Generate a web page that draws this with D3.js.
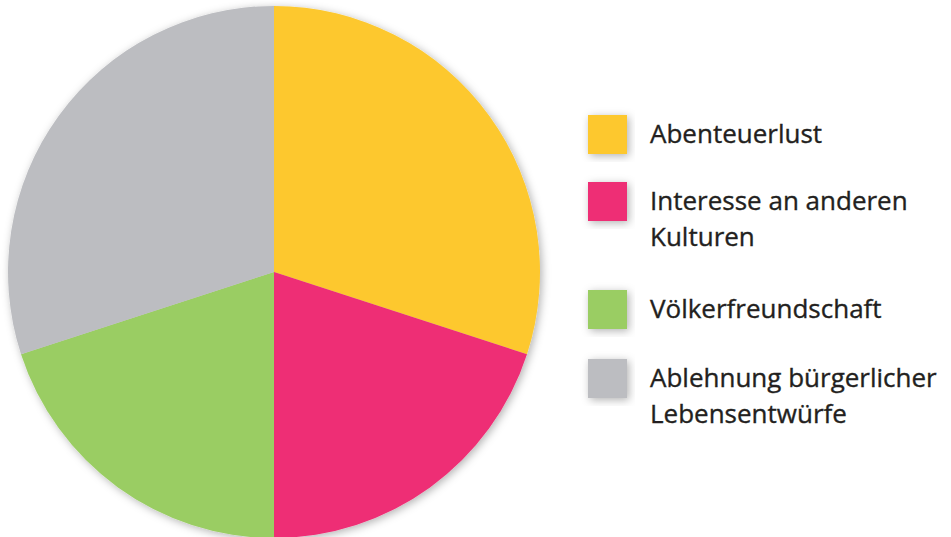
<!DOCTYPE html>
<html>
<head>
<meta charset="utf-8">
<script src="https://cdn.jsdelivr.net/npm/d3@7"></script>
<style>
  body { margin: 0; background: #fff; }
  text { font-family: "Open Sans", "Noto Sans", sans-serif; fill: #231f20; stroke: #231f20; stroke-width: 0.35px; }
</style>
</head>
<body>
<svg id="chart" width="951" height="537"></svg>
<script>
const categories = ["Abenteuerlust", "Interesse an anderen Kulturen", "Völkerfreundschaft", "Ablehnung bürgerlicher Lebensentwürfe"];
const labelLines = [["Abenteuerlust"], ["Interesse an anderen", "Kulturen"], ["Völkerfreundschaft"], ["Ablehnung bürgerlicher", "Lebensentwürfe"]];
const values = [30, 20, 20, 30];
const colors = ["#fdc82f", "#ee2d74", "#9acd63", "#bcbdc1"];

const svg = d3.select("#chart");

// soft shadow like the original artwork
const defs = svg.append("defs");
const shadow = defs.append("filter")
    .attr("id", "shadow")
    .attr("x", "-20%").attr("y", "-20%")
    .attr("width", "140%").attr("height", "140%");
shadow.append("feDropShadow")
    .attr("dx", 2).attr("dy", 2)
    .attr("stdDeviation", 4)
    .attr("flood-color", "#000")
    .attr("flood-opacity", 0.3);

const cx = 274, cy = 272, radius = 266;

const color = d3.scaleOrdinal().domain(categories).range(colors);

const pie = d3.pie().sort(null).value(d => d.value);
const arc = d3.arc().innerRadius(0).outerRadius(radius);

const data = categories.map((c, i) => ({ name: c, value: values[i] }));

const g = svg.append("g")
    .attr("transform", `translate(${cx},${cy})`)
    .attr("filter", "url(#shadow)");

g.selectAll("path.slice")
    .data(pie(data))
    .enter()
    .append("path")
    .attr("class", "slice")
    .attr("d", arc)
    .attr("fill", d => color(d.data.name));

// legend
const legendTops = [115, 182, 290, 359];
const swatch = 39;
const legend = svg.append("g").attr("transform", "translate(588,0)");

const items = legend.selectAll("g")
    .data(data)
    .enter()
    .append("g")
    .attr("transform", (d, i) => `translate(0,${legendTops[i]})`);

items.append("rect")
    .attr("width", swatch)
    .attr("height", swatch)
    .attr("fill", d => color(d.name))
    .attr("filter", "url(#shadow)");

items.append("text")
    .attr("x", 62)
    .attr("y", 28)
    .attr("font-size", 26)
    .each(function (d, i) {
        const t = d3.select(this);
        labelLines[i].forEach((line, j) => {
            t.append("tspan")
                .attr("x", 62)
                .attr("dy", j === 0 ? 0 : 36)
                .text(line);
        });
    });
</script>
</body>
</html>
